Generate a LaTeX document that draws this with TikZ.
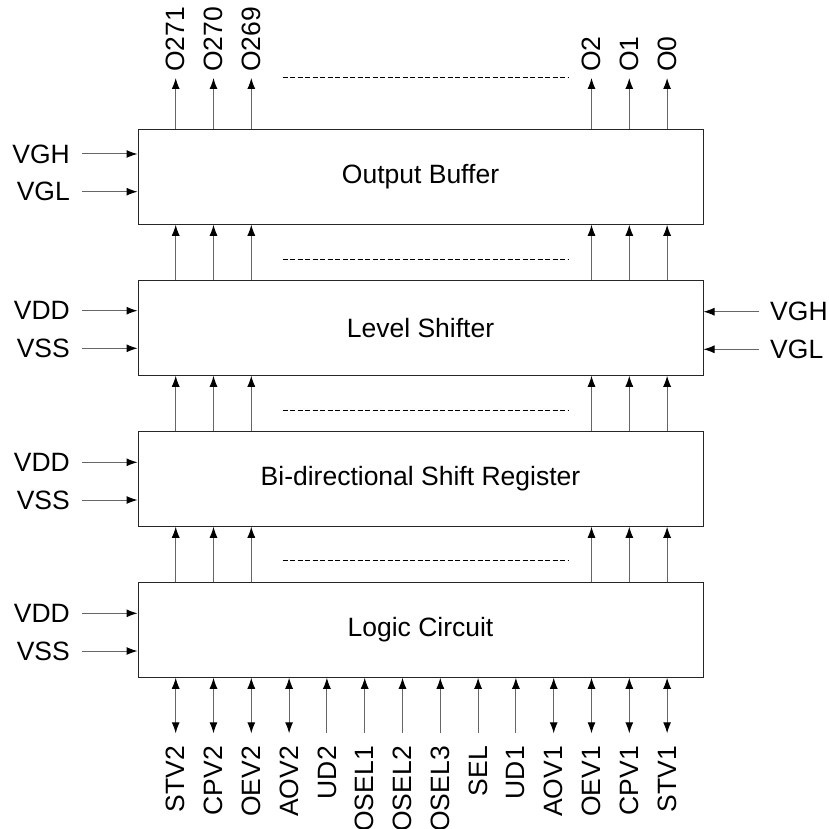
\documentclass[tikz,border=0pt]{standalone}
\usepackage{fontspec}
\setmainfont{Liberation Sans}
\usetikzlibrary{arrows.meta}
\begin{document}
\begin{tikzpicture}[x=1pt,y=-1pt,
  every node/.style={font=\fontsize{26.5}{30}\selectfont},
  blk/.style={draw=black!85, line width=1pt, minimum width=565pt, minimum height=94.5pt, inner sep=0pt},
  wire/.style={draw=black!60, line width=1pt, -{Latex[length=11pt,width=8pt,fill=black,color=black]}},
  bwire/.style={draw=black!60, line width=1pt, {Latex[length=11pt,width=8pt,fill=black,color=black]}-{Latex[length=11pt,width=8pt,fill=black,color=black]}},
  dots/.style={line width=1pt, dash pattern=on 5pt off 2.5pt},
  lbl/.style={inner sep=0pt},
  vlbl/.style={inner sep=0pt, rotate=90}]
\useasboundingbox (0,0) rectangle (829,829);

% blocks
\node[blk] (OB) at (420.5,177) {Output Buffer};
\node[blk] (LS) at (420.5,328) {Level Shifter};
\node[blk] (SR) at (420.5,479) {Bi-directional Shift Register};
\node[blk] (LC) at (420.5,630) {Logic Circuit};

% column coordinates
\foreach \i in {0,...,13} {
  \coordinate (c\i) at ({175.7+37.8*\i},0);
}

% inter-block arrows
\foreach \i in {0,1,2,11,12,13} {
  \draw[wire] (LS.north -| c\i) -- (OB.south -| c\i);
  \draw[wire] (SR.north -| c\i) -- (LS.south -| c\i);
  \draw[wire] (LC.north -| c\i) -- (SR.south -| c\i);
}

% dashed rows
\coordinate (dL) at (282.7,0);
\coordinate (dR) at (569,0);
\coordinate (t0) at (0,78);
\coordinate (t1) at (0,259.3);
\coordinate (t2) at (0,410.7);
\coordinate (t3) at (0,560.7);
\foreach \j in {0,1,2,3} {
  \draw[dots] (dL |- t\j) -- (dR |- t\j);
}

% outputs at top
\foreach \i/\t in {0/O271,1/O270,2/O269,11/O2,12/O1,13/O0} {
  \coordinate (o\i) at ({175.7+37.8*\i},78);
  \draw[wire] (OB.north -| c\i) -- (o\i);
  \node[vlbl, anchor=west] (ol\i) at ({175.7+37.8*\i},72) {\t};
}

% left inputs
\foreach \n/\t/\y in {a/VGH/154, b/VGL/191.7, c/VDD/310.7, d/VSS/348.3, e/VDD/462.3, f/VSS/500, g/VDD/613.3, h/VSS/651} {
  \node[lbl, anchor=east] (in\n) at (70,\y) {\t};
  \draw[wire] ([xshift=12pt]in\n.east) -- (in\n.east -| OB.west);
}

% right inputs of level shifter
\foreach \n/\t/\y in {a/VGH/311.7, b/VGL/349.3} {
  \node[lbl, anchor=west] (rin\n) at (770,\y) {\t};
  \draw[wire] ([xshift=-11pt]rin\n.west) -- (rin\n.west -| LS.east);
}

% bottom pins
\foreach \i/\t in {0/STV2,1/CPV2,2/OEV2,3/AOV2,4/UD2,5/OSEL1,6/OSEL2,7/OSEL3,8/SEL,9/UD1,10/AOV1,11/OEV1,12/CPV1,13/STV1} {
  \coordinate (b\i) at ({175.7+37.8*\i},733.3);
  \node[vlbl, anchor=east] (bl\i) at ({175.7+37.8*\i},746) {\t};
}
\foreach \i in {0,1,2,3,10,11,12,13} {
  \draw[bwire] (LC.south -| c\i) -- (b\i);
}
\foreach \i in {4,...,9} {
  \draw[wire] (b\i) -- (LC.south -| c\i);
}
\end{tikzpicture}
\end{document}
